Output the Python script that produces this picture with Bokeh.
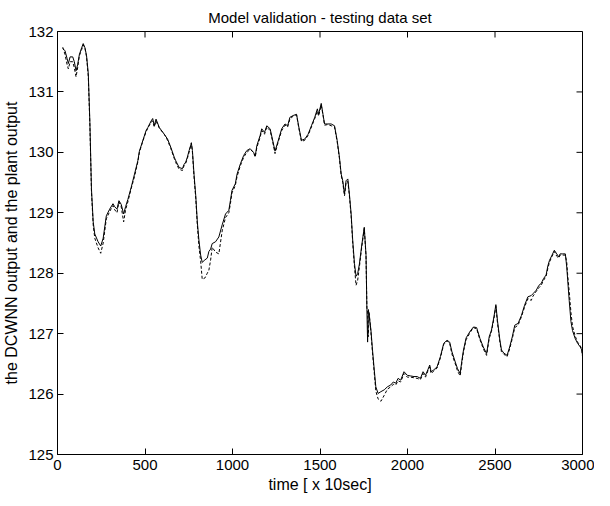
import math
from bokeh.plotting import figure
from bokeh.models import Range1d, FixedTicker
from bokeh.embed import file_html
from bokeh.resources import INLINE

# ---- data ----
time = [30, 43, 55, 62, 72, 87, 96, 106, 115, 125, 138, 147, 157, 166, 176, 185, 194, 204, 213, 232,
        247, 261, 279, 298, 317, 327, 340, 351, 364, 378, 389, 402, 421, 440, 459, 468, 487, 506, 516, 535,
        544, 553, 563, 582, 610, 629, 648, 667, 676, 695, 714, 723, 733, 742, 752, 765, 771, 780, 790, 799,
        808, 818, 827, 842, 856, 865, 875, 884, 903, 922, 941, 960, 979, 988, 997, 1016, 1026, 1045, 1064, 1082,
        1101, 1120, 1130, 1139, 1158, 1167, 1183, 1196, 1215, 1228, 1243, 1262, 1281, 1300, 1315, 1328, 1347, 1366, 1379, 1394,
        1413, 1432, 1451, 1470, 1485, 1492, 1507, 1517, 1526, 1545, 1564, 1583, 1598, 1611, 1621, 1630, 1640, 1649, 1659, 1668,
        1678, 1687, 1697, 1706, 1715, 1725, 1738, 1753, 1763, 1768, 1772, 1776, 1781, 1791, 1800, 1810, 1819, 1832, 1848, 1867,
        1885, 1904, 1919, 1933, 1946, 1961, 1980, 1999, 2018, 2037, 2055, 2074, 2089, 2103, 2116, 2127, 2135, 2150, 2169, 2188,
        2207, 2226, 2241, 2254, 2273, 2286, 2301, 2311, 2320, 2335, 2358, 2377, 2395, 2414, 2433, 2452, 2467, 2480, 2494, 2505,
        2514, 2528, 2537, 2550, 2569, 2584, 2599, 2613, 2632, 2651, 2669, 2688, 2707, 2717, 2736, 2751, 2764, 2777, 2792, 2802,
        2811, 2826, 2839, 2853, 2864, 2872, 2887, 2902, 2910, 2915, 2924, 2934, 2943, 2958, 2972, 2987, 2996, 3000]

plant_output = [131.72, 131.68, 131.55, 131.47, 131.58, 131.58, 131.50, 131.35, 131.45, 131.62, 131.73, 131.80, 131.73, 131.60, 131.30, 130.50, 129.40, 128.85, 128.65, 128.52,
                128.45, 128.58, 128.95, 129.06, 129.15, 129.10, 129.06, 129.20, 129.14, 128.98, 129.10, 129.22, 129.42, 129.64, 129.86, 130.02, 130.19, 130.36, 130.41, 130.52,
                130.56, 130.44, 130.55, 130.41, 130.30, 130.22, 130.08, 129.92, 129.86, 129.75, 129.73, 129.80, 129.84, 129.92, 130.03, 130.15, 130.03, 129.64, 129.28, 128.85,
                128.55, 128.30, 128.18, 128.22, 128.25, 128.36, 128.40, 128.49, 128.52, 128.60, 128.80, 128.98, 129.04, 129.20, 129.37, 129.48, 129.64, 129.81, 129.95, 130.03,
                130.06, 130.00, 129.94, 130.11, 130.28, 130.39, 130.33, 130.44, 130.39, 130.22, 130.02, 130.20, 130.39, 130.47, 130.44, 130.58, 130.61, 130.63, 130.42, 130.20,
                130.22, 130.30, 130.44, 130.58, 130.72, 130.63, 130.81, 130.63, 130.47, 130.47, 130.47, 130.44, 130.20, 129.92, 129.64, 129.53, 129.31, 129.53, 129.56, 129.31,
                128.98, 128.54, 128.16, 127.95, 127.99, 128.15, 128.45, 128.76, 128.30, 127.40, 126.86, 127.40, 127.30, 127.06, 126.73, 126.40, 126.12, 126.01, 126.04, 126.07,
                126.12, 126.15, 126.20, 126.18, 126.26, 126.23, 126.37, 126.31, 126.30, 126.29, 126.29, 126.26, 126.37, 126.31, 126.40, 126.48, 126.37, 126.40, 126.45, 126.62,
                126.84, 126.89, 126.86, 126.70, 126.53, 126.42, 126.34, 126.56, 126.73, 126.93, 127.04, 127.11, 127.10, 126.92, 126.78, 126.67, 126.95, 127.06, 127.28, 127.48,
                127.22, 126.89, 126.73, 126.68, 126.64, 126.78, 126.95, 127.14, 127.17, 127.30, 127.47, 127.61, 127.63, 127.66, 127.72, 127.80, 127.83, 127.91, 127.97, 128.12,
                128.21, 128.30, 128.38, 128.32, 128.27, 128.32, 128.32, 128.32, 128.10, 127.90, 127.55, 127.20, 127.05, 126.92, 126.84, 126.78, 126.73, 126.64]

dcwnn_output = [131.74, 131.62, 131.45, 131.38, 131.50, 131.50, 131.40, 131.25, 131.40, 131.60, 131.70, 131.78, 131.72, 131.58, 131.25, 130.45, 129.35, 128.80, 128.58, 128.42,
                128.33, 128.50, 128.90, 129.02, 129.12, 129.05, 129.00, 129.18, 129.10, 128.85, 129.05, 129.18, 129.40, 129.60, 129.84, 130.00, 130.18, 130.34, 130.40, 130.50,
                130.52, 130.42, 130.52, 130.40, 130.30, 130.20, 130.06, 129.90, 129.83, 129.72, 129.70, 129.78, 129.82, 129.90, 130.00, 130.16, 130.00, 129.60, 129.24, 128.80,
                128.45, 128.20, 127.90, 127.92, 128.00, 128.05, 128.22, 128.43, 128.35, 128.32, 128.70, 128.92, 129.00, 129.15, 129.33, 129.45, 129.60, 129.78, 129.92, 130.00,
                130.05, 130.00, 129.92, 130.08, 130.25, 130.36, 130.30, 130.42, 130.36, 130.20, 129.98, 130.18, 130.36, 130.45, 130.42, 130.55, 130.60, 130.62, 130.40, 130.18,
                130.20, 130.28, 130.42, 130.56, 130.68, 130.60, 130.78, 130.62, 130.45, 130.46, 130.44, 130.42, 130.18, 129.90, 129.62, 129.50, 129.28, 129.50, 129.52, 129.28,
                128.94, 128.50, 128.10, 127.80, 127.88, 128.10, 128.42, 128.74, 128.28, 127.42, 127.40, 126.95, 127.35, 127.02, 126.68, 126.35, 126.05, 125.92, 125.88, 125.98,
                126.08, 126.12, 126.16, 126.15, 126.22, 126.20, 126.34, 126.28, 126.28, 126.27, 126.26, 126.24, 126.34, 126.28, 126.38, 126.45, 126.34, 126.38, 126.43, 126.60,
                126.82, 126.88, 126.84, 126.66, 126.50, 126.38, 126.30, 126.52, 126.70, 126.90, 127.02, 127.10, 127.08, 126.90, 126.75, 126.64, 126.92, 127.04, 127.25, 127.45,
                127.18, 126.86, 126.70, 126.66, 126.62, 126.75, 126.92, 127.10, 127.14, 127.28, 127.44, 127.58, 127.55, 127.62, 127.70, 127.76, 127.80, 127.88, 127.95, 128.08,
                128.18, 128.28, 128.36, 128.28, 128.25, 128.30, 128.30, 128.30, 128.18, 127.98, 127.70, 127.35, 127.12, 126.96, 126.86, 126.80, 126.74, 126.62]

x_ticks = [0, 500, 1000, 1500, 2000, 2500, 3000]
y_ticks = [125, 126, 127, 128, 129, 130, 131, 132]

title_text = "Model validation - testing data set"
x_label = "time [ x 10sec]"
y_label = "the DCWNN output and the plant output"

FONT = "Liberation Sans"
TICK_LEN = 6

p = figure(width=594, height=498, output_backend="svg", toolbar_location=None,
           x_range=Range1d(x_ticks[0], x_ticks[-1]), y_range=Range1d(y_ticks[0], y_ticks[-1]),
           min_border_left=53, min_border_right=12, min_border_top=29, min_border_bottom=44,
           background_fill_color="white", border_fill_color="white")

p.title.text = title_text
p.title.align = "center"
p.title.text_font = FONT
p.title.text_font_size = "15px"
p.title.text_font_style = "normal"
p.title.text_color = "black"
p.title.standoff = 12

p.grid.visible = False
p.outline_line_color = "black"
p.outline_line_width = 1

for ax, ticks in ((p.xaxis[0], x_ticks), (p.yaxis[0], y_ticks)):
    ax.ticker = FixedTicker(ticks=ticks)
    ax.major_tick_in = TICK_LEN
    ax.major_tick_out = 0
    ax.minor_tick_in = 0
    ax.minor_tick_out = 0
    ax.axis_line_color = "black"
    ax.major_tick_line_color = "black"
    ax.major_label_text_font = FONT
    ax.major_label_text_font_size = "15px"
    ax.major_label_text_color = "black"
    ax.axis_label_text_font = FONT
    ax.axis_label_text_font_size = "16px"
    ax.axis_label_text_font_style = "normal"
    ax.axis_label_text_color = "black"

p.xaxis.axis_label = x_label
p.xaxis.major_label_standoff = 5
p.xaxis.axis_label_standoff = 3
p.yaxis.axis_label = y_label
p.yaxis.major_label_standoff = 4
p.yaxis.axis_label_standoff = 5

# mirrored inward ticks on the top and right edges of the box
p.ray(x=x_ticks, y=[y_ticks[-1]] * len(x_ticks), length=TICK_LEN, length_units="screen",
      angle=-math.pi / 2, line_color="black", line_width=1)
p.ray(x=[x_ticks[-1]] * len(y_ticks), y=y_ticks, length=TICK_LEN, length_units="screen",
      angle=math.pi, line_color="black", line_width=1)

p.line(time, plant_output, line_color="black", line_width=1)
p.line(time, dcwnn_output, line_color="black", line_width=1, line_dash="3 2")

open("out.html", "w").write(file_html(p, INLINE))
